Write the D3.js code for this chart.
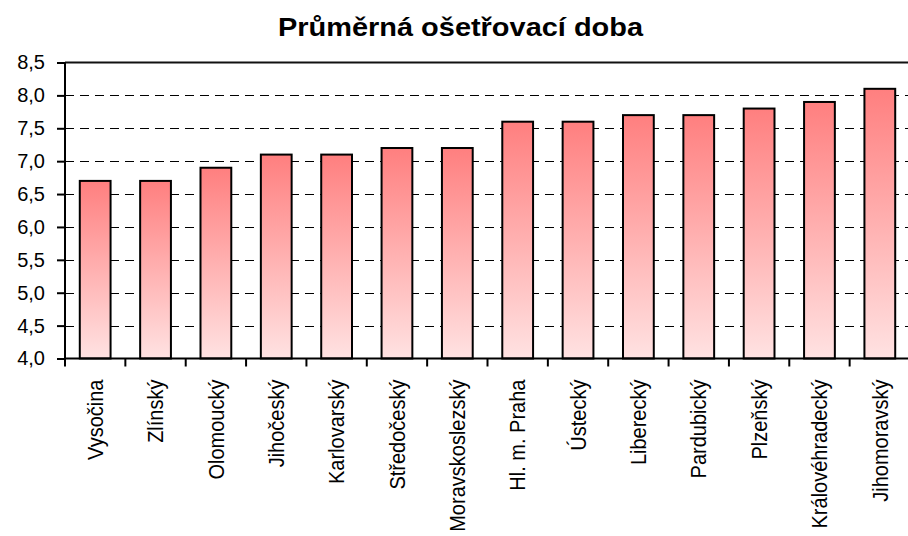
<!DOCTYPE html>
<html>
<head>
<meta charset="utf-8">
<script src="https://cdn.jsdelivr.net/npm/d3@7"></script>
<style>
  body { margin: 0; background: #fff; }
  svg { display: block; font-family: "Liberation Sans", Arial, sans-serif; }
  .grid line { stroke: #000; stroke-width: 1; stroke-dasharray: 9,6; }
</style>
</head>
<body>
<div class="barChart"></div>
<script>
const WIDTH = 908;
const HEIGHT = 536;
const LEFT = 65;
const RIGHT = 910;
const TOP = 62.5;
const BOTTOM = 358.5;

var regions = ['Vysočina', 'Zlínský', 'Olomoucký', 'Jihočeský', 'Karlovarský', 'Středočeský',
    'Moravskoslezský', 'Hl. m. Praha', 'Ústecký', 'Liberecký', 'Pardubický', 'Plzeňský',
    'Královéhradecký', 'Jihomoravský'];
var values = [6.7, 6.7, 6.9, 7.1, 7.1, 7.2, 7.2, 7.6, 7.6, 7.7, 7.7, 7.8, 7.9, 8.1];
var yTicks = [4.0, 4.5, 5.0, 5.5, 6.0, 6.5, 7.0, 7.5, 8.0, 8.5];
var title = 'Průměrná ošetřovací doba';

var xScale = d3.scaleBand().domain(regions).range([LEFT, RIGHT]).paddingInner(0.49).paddingOuter(0.245);
var yScale = d3.scaleLinear().domain([4, 8.5]).range([BOTTOM, TOP]);

function tickFormat(t) {
    return t.toFixed(1).replace('.', ',');
}

var svg = d3.select('.barChart').append('svg')
    .attr('width', WIDTH)
    .attr('height', HEIGHT);

var grad = svg.append('defs').append('linearGradient')
    .attr('id', 'barFill')
    .attr('x1', 0).attr('y1', 0).attr('x2', 0).attr('y2', 1);
grad.append('stop').attr('offset', '0%').attr('stop-color', '#ff7f7f');
grad.append('stop').attr('offset', '100%').attr('stop-color', '#ffe2e2');

// title (the original is rendered a bit wider than Arial)
svg.append('text')
    .attr('x', 278)
    .attr('y', 36)
    .attr('textLength', 365)
    .attr('lengthAdjust', 'spacingAndGlyphs')
    .style('font-size', '26px')
    .style('font-weight', 'bold')
    .text(title);

// dashed grid
svg.append('g').attr('class', 'grid')
    .selectAll('line').data(yTicks.filter(function (t) { return t > 4 && t < 8.5; }))
    .enter().append('line')
    .attr('x1', LEFT).attr('x2', RIGHT)
    .attr('y1', function (d) { return Math.round(yScale(d)) + 0.5; })
    .attr('y2', function (d) { return Math.round(yScale(d)) + 0.5; });

// top border
svg.append('line')
    .attr('x1', LEFT).attr('x2', RIGHT)
    .attr('y1', TOP).attr('y2', TOP)
    .attr('stroke', '#111').attr('stroke-width', 2);

// bars
svg.append('g').selectAll('rect').data(values).enter().append('rect')
    .attr('x', function (d, i) { return xScale(regions[i]); })
    .attr('y', function (d) { return yScale(d); })
    .attr('width', xScale.bandwidth())
    .attr('height', function (d) { return BOTTOM - yScale(d); })
    .attr('fill', 'url(#barFill)')
    .attr('stroke', '#000')
    .attr('stroke-width', 2);

// y axis
var yAxis = d3.axisLeft(yScale).tickValues(yTicks).tickFormat(tickFormat).tickSize(8).tickPadding(12);
var yAxisG = svg.append('g').attr('transform', 'translate(' + LEFT + ',0)').call(yAxis);
yAxisG.select('.domain').attr('stroke-width', 2).attr('d', 'M0,' + TOP + 'V' + BOTTOM);
yAxisG.selectAll('.tick line').attr('stroke-width', 2);
yAxisG.selectAll('.tick text').style('font-size', '20px').style('font-family', '"Liberation Sans", Arial, sans-serif').attr('fill', '#000');

// x axis with ticks on band boundaries
var xAxisG = svg.append('g').attr('transform', 'translate(0,' + BOTTOM + ')');
xAxisG.append('line')
    .attr('x1', LEFT - 1).attr('x2', RIGHT)
    .attr('stroke', '#000').attr('stroke-width', 2);
xAxisG.selectAll('.xtick').data(regions).enter().append('line')
    .attr('x1', function (d) { return xScale(d) - xScale.step() * xScale.paddingOuter(); })
    .attr('x2', function (d) { return xScale(d) - xScale.step() * xScale.paddingOuter(); })
    .attr('y1', 0).attr('y2', 8)
    .attr('stroke', '#000').attr('stroke-width', 2);
// labels are a little taller than Arial in the original, so squeeze along the text
xAxisG.selectAll('.xlabel').data(regions).enter().append('text')
    .attr('transform', function (d) {
        return 'translate(' + (xScale(d) + xScale.bandwidth() / 2) + ',21) rotate(-90) scale(0.91,1)';
    })
    .attr('text-anchor', 'end')
    .attr('dy', '0.35em')
    .style('font-size', '22px')
    .text(function (d) { return d; });
</script>
</body>
</html>
